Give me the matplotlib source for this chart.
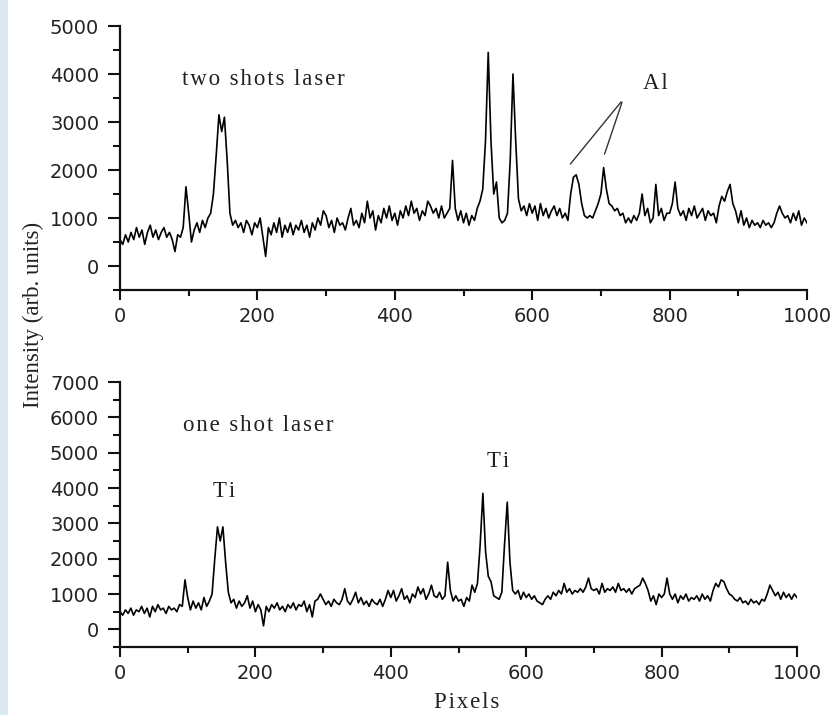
import matplotlib
matplotlib.use("Agg")
import matplotlib.pyplot as plt
from matplotlib.patches import Rectangle
from matplotlib.ticker import MultipleLocator

# ---------------- data ----------------
pixels = list(range(0, 1001, 4))

two_shots = [
    550, 450, 650, 500, 700, 550, 800, 600, 750, 450,
    700, 850, 600, 750, 550, 700, 800, 600, 700, 550,
    300, 650, 600, 800, 1650, 1100, 500, 750, 900, 700,
    950, 800, 1000, 1100, 1500, 2300, 3150, 2800, 3100, 2200,
    1100, 850, 950, 800, 900, 700, 950, 850, 650, 900,
    800, 1000, 600, 200, 800, 650, 900, 700, 1000, 600,
    850, 700, 900, 650, 850, 750, 950, 700, 850, 600,
    900, 750, 1000, 850, 1150, 1050, 800, 950, 700, 1000,
    850, 900, 750, 1000, 1200, 850, 950, 800, 1100, 900,
    1350, 1000, 1150, 750, 1050, 900, 1200, 1000, 1250, 950,
    1100, 850, 1150, 1000, 1250, 1050, 1350, 1100, 1200, 950,
    1150, 1050, 1350, 1250, 1100, 1200, 1000, 1250, 1000, 1100,
    1200, 2200, 1200, 950, 1150, 900, 1100, 850, 1050, 950,
    1200, 1350, 1600, 2600, 4450, 2600, 1500, 1750, 1000, 900,
    950, 1100, 2200, 4000, 2600, 1400, 1150, 1250, 1050, 1300,
    1100, 1250, 950, 1300, 1050, 1200, 1000, 1150, 1250, 1050,
    1200, 1000, 1100, 950, 1500, 1850, 1900, 1700, 1300, 1050,
    1000, 1050, 1000, 1150, 1300, 1500, 2050, 1600, 1300, 1250,
    1150, 1200, 1050, 1100, 900, 1000, 900, 1050, 950, 1100,
    1500, 1050, 1200, 900, 1000, 1700, 1050, 1200, 950, 1100,
    1100, 1300, 1750, 1200, 1050, 1150, 950, 1200, 1050, 1250,
    1000, 1100, 1200, 950, 1150, 1050, 1100, 900, 1250, 1450,
    1350, 1550, 1700, 1300, 1150, 900, 1150, 850, 1000, 800,
    950, 850, 900, 800, 950, 850, 900, 800, 900, 1100,
    1250, 1100, 1000, 1050, 900, 1100, 950, 1150, 850, 1000,
    900,
]

one_shot = [
    500, 400, 550, 450, 600, 400, 550, 500, 650, 450,
    600, 350, 650, 500, 700, 550, 600, 450, 650, 550,
    600, 500, 700, 650, 1400, 900, 550, 800, 600, 750,
    550, 900, 650, 800, 1000, 2000, 2900, 2500, 2900, 1900,
    1050, 750, 850, 600, 800, 650, 750, 950, 600, 800,
    500, 700, 550, 100, 650, 500, 700, 600, 750, 550,
    650, 500, 700, 600, 750, 550, 700, 650, 800, 500,
    700, 350, 800, 850, 1000, 850, 700, 800, 650, 850,
    750, 700, 850, 1150, 800, 700, 850, 1050, 750, 900,
    700, 800, 650, 850, 750, 700, 850, 650, 850, 1100,
    900, 1100, 800, 950, 1150, 850, 950, 750, 1000, 900,
    1200, 1000, 1150, 850, 1000, 1250, 950, 900, 1050, 850,
    950, 1900, 1100, 800, 950, 800, 850, 650, 900, 800,
    1250, 1050, 1300, 2400, 3850, 2200, 1500, 1350, 950, 900,
    850, 1050, 2400, 3600, 1900, 1100, 1000, 1100, 850, 1050,
    900, 1000, 850, 950, 800, 750, 700, 850, 950, 850,
    1050, 950, 1100, 1000, 1300, 1050, 1150, 1000, 1100, 1050,
    1150, 1050, 1200, 1450, 1150, 1100, 1150, 1000, 1300, 1050,
    1150, 1100, 1200, 1050, 1300, 1100, 1150, 1050, 1150, 1000,
    1150, 1200, 1250, 1450, 1300, 1100, 800, 950, 700, 1000,
    900, 1000, 1450, 1000, 850, 1000, 750, 950, 850, 1000,
    800, 900, 850, 950, 800, 1000, 850, 950, 800, 1100,
    1300, 1200, 1400, 1350, 1150, 1000, 950, 850, 800, 900,
    750, 800, 700, 850, 750, 800, 700, 850, 800, 1000,
    1250, 1100, 950, 1050, 850, 1050, 900, 1000, 850, 1000,
    900,
]

x_ticks = [0, 200, 400, 600, 800, 1000]
top_yticks = [0, 1000, 2000, 3000, 4000, 5000]
bot_yticks = [0, 1000, 2000, 3000, 4000, 5000, 6000, 7000]

# ---------------- figure ----------------
W, H = 830, 715
fig = plt.figure(figsize=(W / 100, H / 100), dpi=100)
fig.patches.append(Rectangle((0, 0), 8 / W, 1, transform=fig.transFigure,
                             facecolor="#dde9f1", edgecolor="none"))

ax1 = fig.add_axes([120 / W, 1 - 290 / H, 687 / W, (290 - 26) / H])
ax2 = fig.add_axes([120 / W, 1 - 647 / H, 677 / W, (647 - 382) / H])

SERIF = ["Liberation Serif", "DejaVu Serif"]
TXT = "#222222"


def spaced(s):
    return "\u200a".join(s)


for ax, y, yt, ylim in [(ax1, two_shots, top_yticks, (-500, 5000)),
                        (ax2, one_shot, bot_yticks, (-500, 7000))]:
    ax.plot(pixels, y, color="black", lw=1.2)
    ax.set_xlim(0, 1000)
    ax.set_ylim(*ylim)
    ax.set_xticks(x_ticks)
    ax.set_yticks(yt)
    ax.xaxis.set_minor_locator(MultipleLocator(100))
    ax.yaxis.set_minor_locator(MultipleLocator(500))
    for s in ["top", "right"]:
        ax.spines[s].set_visible(False)
    for s in ["left", "bottom"]:
        ax.spines[s].set_linewidth(1.6)
        ax.spines[s].set_color("#111111")
    ax.tick_params(axis="y", which="major", direction="out", length=9, width=1.5,
                   pad=6, labelsize=14, colors="#111111")
    ax.tick_params(axis="y", which="minor", direction="out", length=5, width=1.5,
                   colors="#111111")
    ax.tick_params(axis="x", which="major", direction="out", length=7, width=1.5,
                   pad=5, labelsize=14, colors="#111111")
    ax.tick_params(axis="x", which="minor", direction="out", length=4, width=1.5,
                   colors="#111111")
    for lab in ax.get_xticklabels() + ax.get_yticklabels():
        lab.set_fontfamily("DejaVu Sans")
        lab.set_color("#222222")

# texts
FS = 16.5
ax1.text(208, 3880, spaced("two shots laser"), ha="center", va="center",
         fontsize=FS, family=SERIF, color=TXT)
ax1.text(779, 3800, spaced("Al"), ha="center", va="center",
         fontsize=FS, family=SERIF, color=TXT)
ax1.annotate("", xy=(653, 2080), xytext=(732, 3465),
             arrowprops=dict(arrowstyle="-", color="#333333", lw=1.0))
ax1.annotate("", xy=(704, 2275), xytext=(732, 3465),
             arrowprops=dict(arrowstyle="-", color="#333333", lw=1.0))

ax2.text(204, 5780, spaced("one shot laser"), ha="center", va="center",
         fontsize=FS, family=SERIF, color=TXT)
ax2.text(154, 3910, spaced("Ti"), ha="center", va="center",
         fontsize=FS, family=SERIF, color=TXT)
ax2.text(558, 4760, spaced("Ti"), ha="center", va="center",
         fontsize=FS, family=SERIF, color=TXT)

fig.text(33 / W, 1 - 315 / H, "Intensity (arb. units)", rotation=90,
         ha="center", va="center", fontsize=16.5, family=SERIF, color=TXT)
fig.text(467 / W, 1 - 702 / H, spaced("Pixels"), ha="center", va="center",
         fontsize=FS, family=SERIF, color=TXT)

fig.savefig("out.png", dpi=100)
